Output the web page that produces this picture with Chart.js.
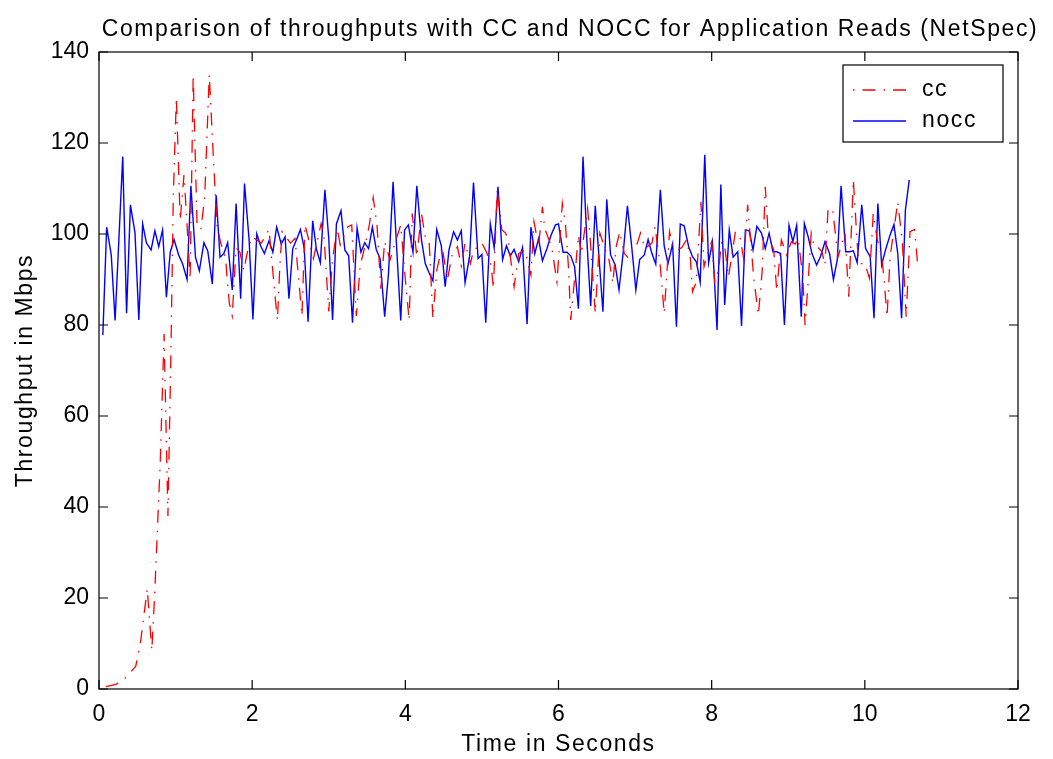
<!DOCTYPE html>
<html>
<head>
<meta charset="utf-8">
<title>CC vs NOCC throughput</title>
<script src="https://cdn.jsdelivr.net/npm/chart.js@4.4.1/dist/chart.umd.min.js"></script>
<style>
    html, body { margin: 0; padding: 0; background: #fff; }
    #wrap { width: 1053px; height: 759px; }
</style>
</head>
<body>
<div id="wrap"><canvas id="throughputChart" width="1053" height="759"></canvas></div>
<script>
// Data (time in seconds, throughput in Mbps)
const ccTime = [
    0.09, 0.22, 0.35, 0.48, 0.54, 0.57, 0.63, 0.69, 0.73, 0.77, 0.80, 0.85, 0.90, 0.94, 0.97, 1.01,
    1.06, 1.11, 1.15, 1.19, 1.23, 1.28, 1.33, 1.38, 1.44, 1.49, 1.54, 1.59, 1.65, 1.70, 1.74, 1.79,
    1.84, 1.89, 1.95, 2.00, 2.06, 2.12, 2.22, 2.30, 2.33, 2.36, 2.39, 2.50, 2.56, 2.65, 2.69, 2.80,
    2.90, 2.94, 3.00, 3.05, 3.11, 3.15, 3.25, 3.30, 3.36, 3.41, 3.47, 3.53, 3.58, 3.63, 3.68, 3.73,
    3.80, 3.85, 3.94, 4.00, 4.05, 4.09, 4.15, 4.21, 4.26, 4.31, 4.36, 4.41, 4.48, 4.55, 4.61, 4.68,
    4.73, 4.78, 4.85, 4.89, 4.94, 5.00, 5.06, 5.12, 5.15, 5.20, 5.26, 5.31, 5.35, 5.42, 5.48, 5.56,
    5.64, 5.68, 5.74, 5.79, 5.82, 5.91, 5.98, 6.05, 6.09, 6.13, 6.16, 6.22, 6.26, 6.30, 6.38, 6.41,
    6.48, 6.54, 6.59, 6.66, 6.71, 6.75, 6.80, 6.86, 6.92, 6.98, 7.03, 7.07, 7.13, 7.22, 7.26, 7.33,
    7.38, 7.45, 7.49, 7.56, 7.61, 7.67, 7.72, 7.75, 7.80, 7.86, 7.90, 7.96, 8.00, 8.04, 8.09, 8.13,
    8.17, 8.22, 8.31, 8.37, 8.42, 8.47, 8.55, 8.61, 8.66, 8.70, 8.74, 8.81, 8.85, 8.91, 8.98, 9.04,
    9.09, 9.13, 9.19, 9.22, 9.26, 9.30, 9.34, 9.38, 9.44, 9.48, 9.52, 9.58, 9.62, 9.65, 9.74, 9.79,
    9.85, 9.91, 9.95, 10.00, 10.06, 10.11, 10.16, 10.22, 10.25, 10.29, 10.33, 10.43, 10.49, 10.54, 10.59, 10.65,
    10.69
];
const ccThroughput = [
    0.5, 1, 2.5, 5, 10, 14, 22, 8.5, 22, 38, 50, 78, 38, 75, 108, 130,
    103, 113, 102, 90, 135, 102, 101, 108, 135, 118, 102, 98, 95, 85, 82, 97,
    96, 92, 97, 99.4, 98.7, 98, 101, 86.2, 81, 92.5, 100.5, 98, 99, 82, 102, 94.6,
    102.3, 99, 83, 94.6, 101.2, 97.6, 101.6, 102, 82, 93, 97.2, 102, 108, 102, 88, 98.3,
    94.3, 97.2, 102, 90, 81, 104.5, 95, 104.5, 99.4, 98.7, 81.5, 92, 97.2, 90, 95.4, 97.2,
    93, 98, 93.5, 96.5, 97, 98, 96, 93.2, 88, 110, 100.9, 100.2, 98, 88.4, 95.7, 96.5,
    91, 102.7, 97.2, 106, 101.2, 97.2, 89.5, 106.7, 102.3, 92.8, 81.1, 92, 99.8, 95.7, 105.6, 99.8,
    82.6, 100.2, 97.6, 94.3, 89.2, 97, 100.5, 95.7, 94.6, 96.5, 98, 100.2, 96.8, 98, 101.6, 92.8,
    82.6, 100.5, 97.2, 96.5, 97, 98.7, 95, 87.3, 89.5, 107, 92.8, 96.5, 98.3, 89.5, 92, 98.3,
    97.2, 90.6, 100.5, 99.4, 94.3, 106.4, 90.3, 82.2, 92, 110.4, 99.4, 96.5, 87.5, 98.7, 95.4, 98.3,
    97.8, 99, 90.6, 80, 89.5, 100.2, 97.2, 97.2, 96.1, 93.2, 105.6, 105.3, 99.4, 95, 100.2, 86.2,
    111.9, 95.4, 93.5, 93.5, 90.3, 104.5, 99, 95, 90.3, 81.8, 95, 107, 98.3, 81.8, 100.5, 101,
    93.2
];

const noccTime = [
    0.05, 0.10, 0.16, 0.21, 0.31, 0.36, 0.41, 0.47, 0.52, 0.57, 0.62, 0.68, 0.73, 0.78, 0.83, 0.88,
    0.93, 0.98, 1.04, 1.09, 1.15, 1.20, 1.26, 1.31, 1.37, 1.42, 1.48, 1.53, 1.58, 1.63, 1.68, 1.74,
    1.79, 1.85, 1.90, 1.96, 2.01, 2.06, 2.11, 2.16, 2.22, 2.27, 2.32, 2.38, 2.43, 2.48, 2.53, 2.59,
    2.63, 2.68, 2.73, 2.79, 2.84, 2.89, 2.95, 3.00, 3.05, 3.10, 3.16, 3.21, 3.26, 3.31, 3.37, 3.42,
    3.47, 3.52, 3.57, 3.62, 3.67, 3.73, 3.78, 3.84, 3.89, 3.94, 3.99, 4.04, 4.10, 4.15, 4.21, 4.26,
    4.31, 4.36, 4.41, 4.47, 4.52, 4.57, 4.63, 4.68, 4.73, 4.78, 4.84, 4.89, 4.95, 5.00, 5.05, 5.11,
    5.16, 5.21, 5.27, 5.32, 5.37, 5.42, 5.48, 5.53, 5.59, 5.64, 5.69, 5.74, 5.79, 5.85, 5.90, 5.96,
    6.00, 6.06, 6.11, 6.16, 6.21, 6.26, 6.32, 6.37, 6.42, 6.48, 6.58, 6.63, 6.68, 6.74, 6.79, 6.85,
    6.90, 6.96, 7.01, 7.06, 7.12, 7.17, 7.22, 7.27, 7.33, 7.38, 7.43, 7.49, 7.54, 7.59, 7.64, 7.70,
    7.75, 7.80, 7.85, 7.91, 7.96, 8.01, 8.07, 8.12, 8.17, 8.23, 8.28, 8.34, 8.39, 8.44, 8.49, 8.54,
    8.59, 8.65, 8.70, 8.75, 8.80, 8.85, 8.90, 8.95, 9.01, 9.06, 9.11, 9.17, 9.21, 9.26, 9.31, 9.37,
    9.42, 9.48, 9.54, 9.59, 9.64, 9.69, 9.75, 9.80, 9.85, 9.90, 9.96, 10.01, 10.07, 10.12, 10.17, 10.22,
    10.27, 10.33, 10.38, 10.43, 10.48, 10.53, 10.58
];
const noccThroughput = [
    77.8, 101.5, 95.4, 81, 117, 82.6, 106.4, 100.3, 81.1, 102.2, 98, 96.5, 100.7, 97.2, 100.9, 86.1,
    96, 98.8, 95.4, 93.5, 90, 110.6, 94.9, 91.9, 98.1, 96.3, 89, 108.5, 94.9, 95.7, 98.1, 87.7,
    106.7, 85.8, 111.1, 98.7, 81.2, 100, 97.4, 95.7, 98.5, 96, 101.5, 97.8, 99.4, 85.8, 96.8, 99.2,
    101, 96.8, 80.7, 102.9, 96.6, 93.7, 109.7, 99, 81.1, 102.2, 105.1, 96.5, 95.2, 80.5, 101.3, 96,
    98.1, 96.8, 101.5, 96.6, 94.6, 81.8, 91.3, 111.5, 96, 81, 100.9, 102, 96, 110.6, 98.8, 93.5,
    91.5, 89.7, 101, 97.4, 88.4, 96.5, 100.5, 98.7, 100.7, 89.3, 95.2, 111.3, 94.6, 95.5, 80.5, 102.2,
    97, 110.4, 94.4, 97.4, 95.2, 96.6, 93.9, 97, 80.2, 101.5, 95.7, 99, 94.1, 96.8, 99.6, 102,
    102.2, 96, 96, 95.2, 92.8, 83.6, 117, 98.8, 84.2, 106.2, 82.9, 107.6, 95.4, 93.2, 87.7, 96.8,
    106.2, 96.5, 87.7, 94.4, 95.4, 98.8, 95.7, 93.4, 109.7, 97.4, 93.5, 97.8, 79.6, 102.2, 101.8, 97.2,
    95, 93.9, 89.4, 117.4, 93.7, 98.3, 78.9, 110.9, 84.4, 100.9, 94.9, 96.1, 79.8, 100.9, 100.7, 96.5,
    101.7, 100.2, 96.8, 100.2, 96.1, 96.1, 95.7, 80, 101.9, 98.3, 101.9, 81.8, 102.3, 99.4, 95.7, 93.2,
    95, 98.3, 95.7, 90, 94.3, 110.6, 96.1, 96.1, 96.3, 93.7, 106.4, 96.8, 95, 81.5, 106.7, 93.2,
    96.5, 99.8, 102.1, 95.7, 81.5, 105.3, 111.9
];

const xTicks = [0, 2, 4, 6, 8, 10, 12];
const yTicks = [0, 20, 40, 60, 80, 100, 120, 140];

const FONT = "'Liberation Sans', Arial, Helvetica, sans-serif";
const FONT_SIZE = 23;
const LABEL_SPACING = '1.6px';   // the figure's lettering runs a little wider than Arial
const CC_DASH = [13, 8, 1.5, 8];

function toPoints(xs, ys) {
    return xs.map((x, i) => ({ x: x, y: ys[i] }));
}

function drawSpacedText(ctx, text, x, y, rotate) {
    ctx.save();
    ctx.translate(x, y);
    if (rotate) ctx.rotate(-Math.PI / 2);
    ctx.letterSpacing = LABEL_SPACING;
    ctx.fillText(text, 0, 0);
    ctx.restore();
}

// Box around the axes with inward ticks on all four sides
const axesFrame = {
    id: 'axesFrame',
    afterDatasetsDraw(chart) {
        const { ctx, chartArea: a, scales } = chart;
        const len = 9;
        ctx.save();
        ctx.strokeStyle = '#000';
        ctx.lineWidth = 1.2;
        ctx.strokeRect(a.left, a.top, a.right - a.left, a.bottom - a.top);
        ctx.beginPath();
        xTicks.forEach(v => {
            const px = scales.x.getPixelForValue(v);
            ctx.moveTo(px, a.bottom);
            ctx.lineTo(px, a.bottom - len);
            ctx.moveTo(px, a.top);
            ctx.lineTo(px, a.top + len);
        });
        yTicks.forEach(v => {
            const py = scales.y.getPixelForValue(v);
            ctx.moveTo(a.left, py);
            ctx.lineTo(a.left + len, py);
            ctx.moveTo(a.right, py);
            ctx.lineTo(a.right - len, py);
        });
        ctx.stroke();
        ctx.restore();
    }
};

// Title, axis labels and legend box
const figureText = {
    id: 'figureText',
    afterDraw(chart, args, opts) {
        const { ctx, chartArea: a } = chart;
        ctx.save();
        ctx.fillStyle = '#000';
        ctx.font = FONT_SIZE + 'px ' + FONT;
        ctx.textAlign = 'center';
        ctx.textBaseline = 'middle';
        drawSpacedText(ctx, opts.title, 570, 30, false);
        drawSpacedText(ctx, opts.xLabel, (a.left + a.right) / 2, 745, false);
        drawSpacedText(ctx, opts.yLabel, 26, (a.top + a.bottom) / 2, true);

        // legend
        const box = { x: 843, y: 65, w: 160, h: 77 };
        ctx.fillStyle = '#fff';
        ctx.fillRect(box.x, box.y, box.w, box.h);
        ctx.strokeStyle = '#000';
        ctx.lineWidth = 1.2;
        ctx.strokeRect(box.x, box.y, box.w, box.h);

        const rows = [90, 121];
        chart.data.datasets.forEach((ds, i) => {
            const y = rows[i];
            ctx.beginPath();
            ctx.strokeStyle = ds.borderColor;
            ctx.lineWidth = ds.borderWidth;
            ctx.setLineDash(ds.borderDash || []);
            ctx.lineDashOffset = ds.borderDash ? 21 : 0;
            ctx.moveTo(853, y);
            ctx.lineTo(906, y);
            ctx.stroke();
            ctx.setLineDash([]);
            ctx.fillStyle = '#000';
            ctx.textAlign = 'left';
            drawSpacedText(ctx, ds.label, 922, y, false);
        });
        ctx.restore();
    }
};

const canvas = document.getElementById('throughputChart');
const chart = new Chart(canvas, {
    type: 'line',
    data: {
        datasets: [
            {
                label: 'cc',
                data: toPoints(ccTime, ccThroughput),
                borderColor: '#ff0000',
                borderWidth: 1.3,
                borderDash: CC_DASH,
                pointRadius: 0,
                tension: 0,
                fill: false
            },
            {
                label: 'nocc',
                data: toPoints(noccTime, noccThroughput),
                borderColor: '#0000ff',
                borderWidth: 1.4,
                pointRadius: 0,
                tension: 0,
                fill: false
            }
        ]
    },
    options: {
        responsive: false,
        animation: false,
        events: [],
        layout: { padding: { top: 52, right: 35, left: 0, bottom: 0 } },
        plugins: {
            legend: { display: false },
            title: { display: false },
            tooltip: { enabled: false },
            figureText: {
                title: 'Comparison of throughputs with CC and NOCC for Application Reads (NetSpec)',
                xLabel: 'Time in Seconds',
                yLabel: 'Throughput in Mbps'
            }
        },
        scales: {
            x: {
                type: 'linear',
                min: 0,
                max: 12,
                afterBuildTicks: scale => { scale.ticks = xTicks.map(v => ({ value: v })); },
                afterFit: scale => { scale.height = 70; },
                grid: { display: false, drawTicks: false },
                border: { display: false },
                ticks: {
                    color: '#000',
                    padding: 12,
                    maxRotation: 0,
                    font: { family: FONT, size: FONT_SIZE }
                }
            },
            y: {
                type: 'linear',
                min: 0,
                max: 140,
                afterBuildTicks: scale => { scale.ticks = yTicks.map(v => ({ value: v })); },
                afterFit: scale => { scale.width = 99; },
                grid: { display: false, drawTicks: false },
                border: { display: false },
                ticks: {
                    color: '#000',
                    padding: 10,
                    font: { family: FONT, size: FONT_SIZE }
                }
            }
        }
    },
    plugins: [axesFrame, figureText]
});
</script>
</body>
</html>
